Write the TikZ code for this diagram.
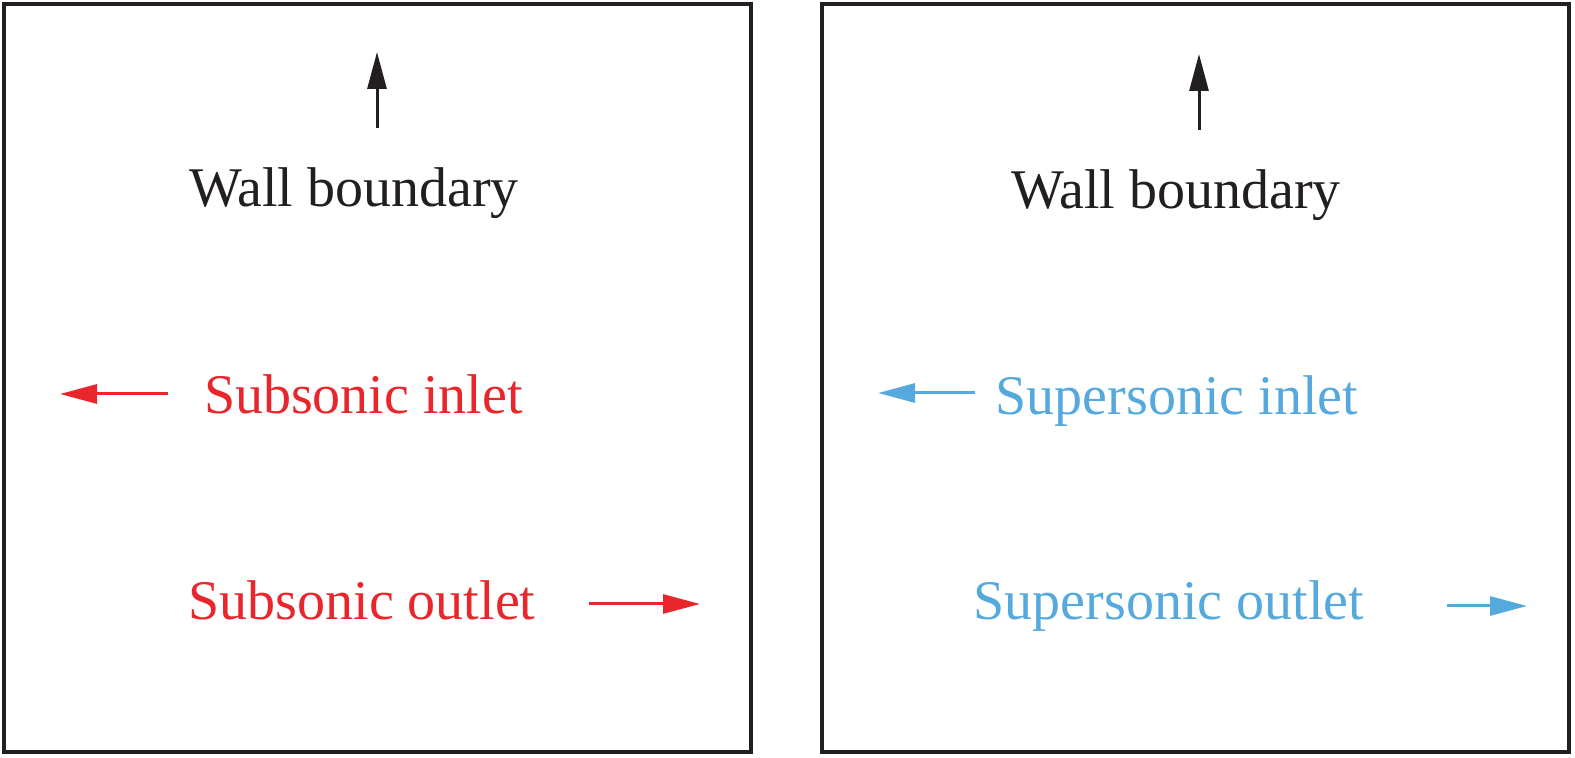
\documentclass[tikz,border=0pt]{standalone}
\usepackage{fontspec}
\setmainfont{Liberation Serif}
\usetikzlibrary{arrows.meta}
\definecolor{ink}{HTML}{231F20}
\definecolor{subred}{HTML}{E8262B}
\definecolor{supblue}{HTML}{55A9DD}
\begin{document}
\begin{tikzpicture}[x=1pt,y=1pt,
  panel/.style={draw=ink,line width=3.2pt},
  lbl/.style={anchor=base,inner sep=0pt,font=\fontsize{56}{62}\selectfont},
  flow/.style={line width=3pt,-{Triangle[length=37pt,width=19pt]}}]
\useasboundingbox (0,0) rectangle (1575,758);
% panels
\node[panel,minimum width=747pt,minimum height=748pt,inner sep=0pt] (lbox) at (377.5,380) {};
\node[panel,minimum width=747pt,minimum height=748pt,inner sep=0pt] (rbox) at (1195.5,380) {};
% left panel
\node[lbl,text=ink] (lwall) at (354,551) {Wall boundary};
\node[lbl,text=subred] (lin) at (363.5,344) {Subsonic inlet};
\node[lbl,text=subred] (lout) at (362,138) {Subsonic outlet};
\coordinate (lwa) at (377,630);
\coordinate (lwb) at (377,706);
\coordinate (lia) at (168,364);
\coordinate (lib) at (60,364);
\coordinate (loa) at (589,154);
\coordinate (lob) at (700,154);
\draw[flow,ink] (lwa) -- (lwb);
\draw[flow,subred] (lia) -- (lib);
\draw[flow,subred] (loa) -- (lob);
% right panel
\node[lbl,text=ink] (rwall) at (1176,549) {Wall boundary};
\node[lbl,text=supblue] (rin) at (1177,343) {Supersonic inlet};
\node[lbl,text=supblue] (rout) at (1169,138) {Supersonic outlet};
\coordinate (rwa) at (1199,628);
\coordinate (rwb) at (1199,704);
\coordinate (ria) at (975,365);
\coordinate (rib) at (878,365);
\coordinate (roa) at (1447,152);
\coordinate (rob) at (1527,152);
\draw[flow,ink] (rwa) -- (rwb);
\draw[flow,supblue] (ria) -- (rib);
\draw[flow,supblue] (roa) -- (rob);
\end{tikzpicture}
\end{document}
